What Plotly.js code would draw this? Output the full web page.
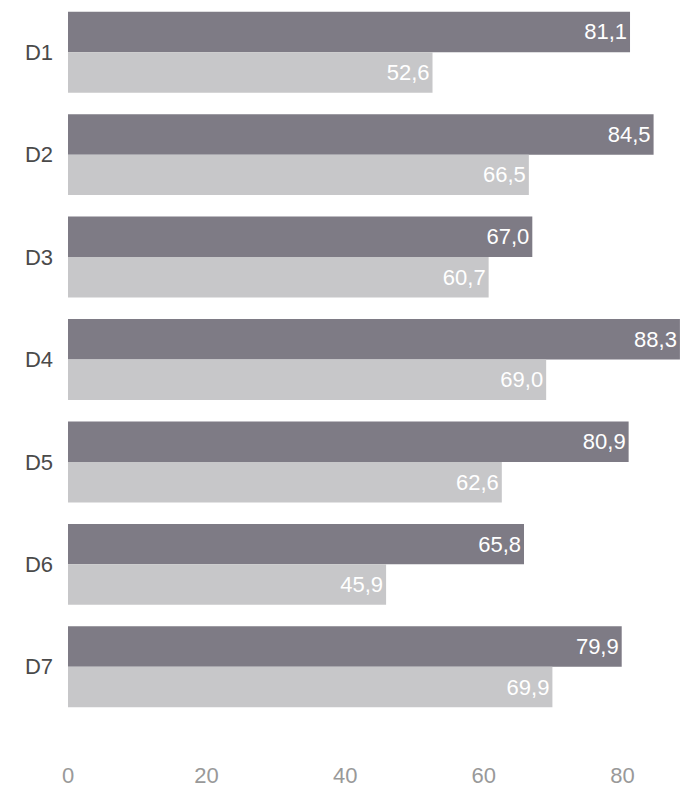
<!DOCTYPE html>
<html>
<head>
<meta charset="utf-8">
<script src="https://cdn.plot.ly/plotly-3.0.1.min.js"></script>
<style>html,body{margin:0;padding:0;background:#fff;}#chart{width:682px;height:792px;}</style>
</head>
<body>
<div id="chart"></div>
<script>
const categories = ["D1", "D2", "D3", "D4", "D5", "D6", "D7"];
const seriesA = [81.1, 84.5, 67.0, 88.3, 80.9, 65.8, 79.9];
const seriesB = [52.6, 66.5, 60.7, 69.0, 62.6, 45.9, 69.9];
const xTicks = [0, 20, 40, 60, 80];

const common = {
  type: "bar",
  orientation: "h",
  y: categories,
  texttemplate: "%{x:.1f}",
  textposition: "inside",
  insidetextanchor: "end",
  constraintext: "none",
  textfont: {family: "Liberation Sans, Arial, sans-serif", size: 22, color: "#ffffff"},
  hoverinfo: "none"
};

const traces = [
  Object.assign({}, common, {name: "A", x: seriesA, marker: {color: "#7e7b85"}}),
  Object.assign({}, common, {name: "B", x: seriesB, marker: {color: "#c7c7c9"}})
];

const layout = {
  width: 682,
  height: 792,
  margin: {l: 68, r: 0, t: 1, b: 74},
  paper_bgcolor: "#ffffff",
  plot_bgcolor: "#ffffff",
  separators: ",.",
  showlegend: false,
  barmode: "group",
  bargap: 0.21,
  bargroupgap: 0,
  font: {family: "Liberation Sans, Arial, sans-serif"},
  xaxis: {
    range: [0, 88.6],
    tickvals: xTicks,
    ticktext: xTicks.map(String),
    showgrid: false,
    zeroline: false,
    showline: false,
    ticks: "",
    ticklabelstandoff: 42,
    tickfont: {size: 22, color: "#999999"}
  },
  yaxis: {
    autorange: "reversed",
    showgrid: false,
    zeroline: false,
    showline: false,
    ticks: "",
    ticklabelstandoff: 14,
    tickfont: {size: 22, color: "#4a4a4a"}
  }
};

Plotly.newPlot("chart", traces, layout, {staticPlot: true});
</script>
</body>
</html>
